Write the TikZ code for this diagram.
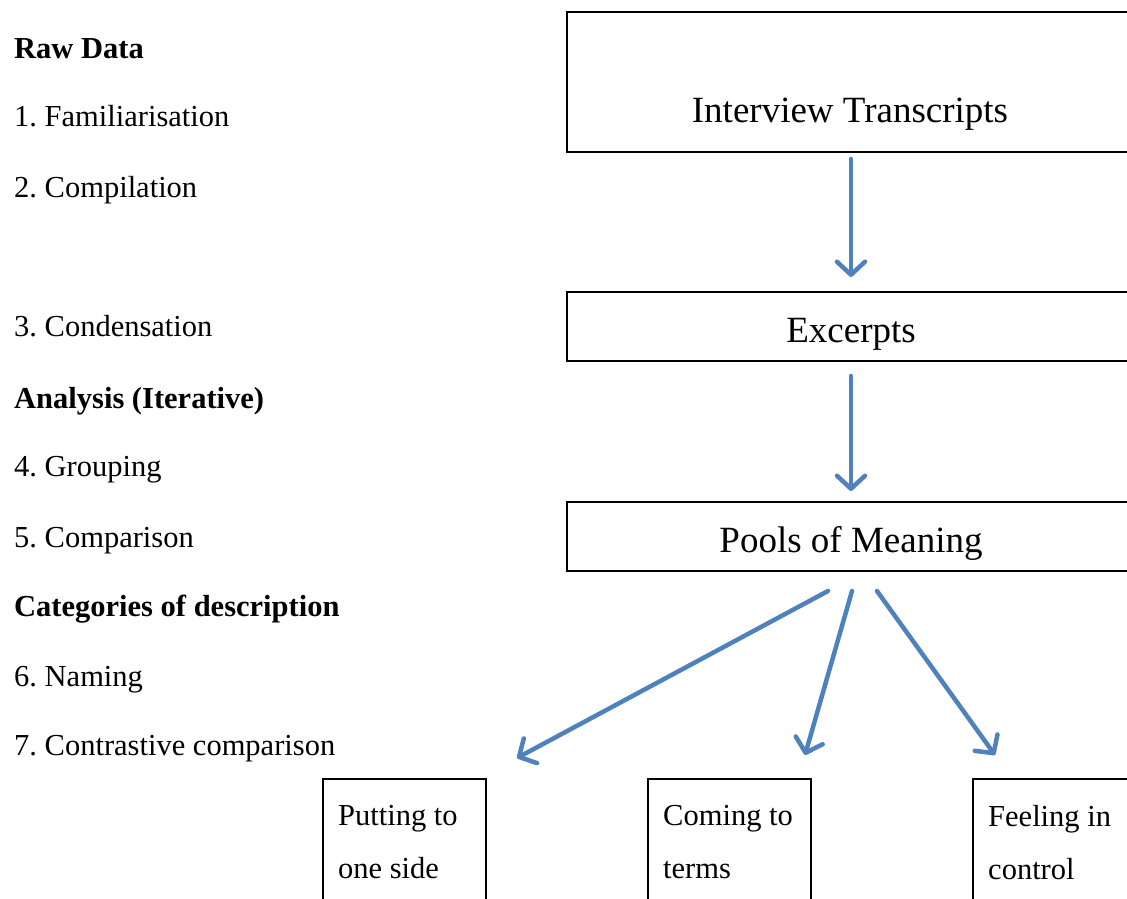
\documentclass[tikz,border=0pt]{standalone}
\usepackage{fontspec}
\setmainfont{Liberation Serif}
\usetikzlibrary{arrows.meta}
\definecolor{arrowblue}{RGB}{79,129,189}
\frenchspacing

\begin{document}
\begin{tikzpicture}[x=1pt, y=1pt,
  stage/.style={anchor=base west, inner sep=0pt, font=\fontsize{30.5}{36}\selectfont},
  heading/.style={anchor=base west, inner sep=0pt, font=\fontsize{30.5}{36}\selectfont\bfseries},
  bigbox/.style={draw, line width=2pt, minimum width=568pt, inner sep=0pt, text height=32pt, text depth=0pt, font=\fontsize{37}{44}\selectfont},
  catbox/.style={draw, line width=2pt, minimum width=163pt, minimum height=130pt, anchor=north west, inner sep=0pt},
  cattext/.style={anchor=north west, inner sep=0pt, align=left, font=\fontsize{30.5}{53}\selectfont},
  flow/.style={draw=arrowblue, line width=4.5pt, line cap=round, -{Straight Barb[length=13pt,width=28pt,round]}}]
  \useasboundingbox (0,0) rectangle (1127,898);
  % stages of the analysis
  \draw (14,839) node[heading] (rawdata) {Raw Data};
  \draw (14,771) node[stage] (familiar) {1. Familiarisation};
  \draw (14,700.5) node[stage] (compile) {2. Compilation};
  \draw (14,561) node[stage] (condense) {3. Condensation};
  \draw (14,489.5) node[heading] (analysis) {Analysis (Iterative)};
  \draw (14,421.2) node[stage] (group) {4. Grouping};
  \draw (14,351) node[stage] (compare) {5. Comparison};
  \draw (14,281.6) node[heading] (categories) {Categories of description};
  \draw (14,211.8) node[stage] (naming) {6. Naming};
  \draw (14,143) node[stage] (contrast) {7. Contrastive comparison};
  % data boxes
  \draw (851,816) node[bigbox, minimum height=140pt] (trans) {};
  \draw (850,775) node[anchor=base, inner sep=0pt, font=\fontsize{37}{44}\selectfont] (transtxt) {Interview Transcripts};
  \draw (851,571.5) node[bigbox, minimum height=69pt] (exc) {Excerpts};
  \draw (851,361.5) node[bigbox, minimum height=69pt] (pools) {Pools of Meaning};
  % categories
  \draw (322,120) node[catbox] (putbox) {};
  \draw (647,120) node[catbox] (comebox) {};
  \draw (972,120) node[catbox] (feelbox) {};
  \draw (338,93) node[cattext] (puttxt) {Putting to\\one side};
  \draw (663,93) node[cattext] (cometxt) {Coming to\\terms};
  \draw (988,93) node[cattext] (feeltxt) {Feeling in\\control};
  \coordinate (tipput) at (517,140);
  \coordinate (tipcome) at (805,143);
  \coordinate (tipfeel) at (995,143);
  % arrows
  \draw[flow, shorten <=6pt, shorten >=14pt] (trans) -- (exc);
  \draw[flow, shorten <=14pt, shorten >=10pt] (exc) -- (pools);
  \draw[flow] ([xshift=-23pt,yshift=-19pt]pools.south) -- (tipput);
  \draw[flow] ([xshift=1pt,yshift=-19pt]pools.south) -- (tipcome);
  \draw[flow] ([xshift=26pt,yshift=-19pt]pools.south) -- (tipfeel);
\end{tikzpicture}
\end{document}
